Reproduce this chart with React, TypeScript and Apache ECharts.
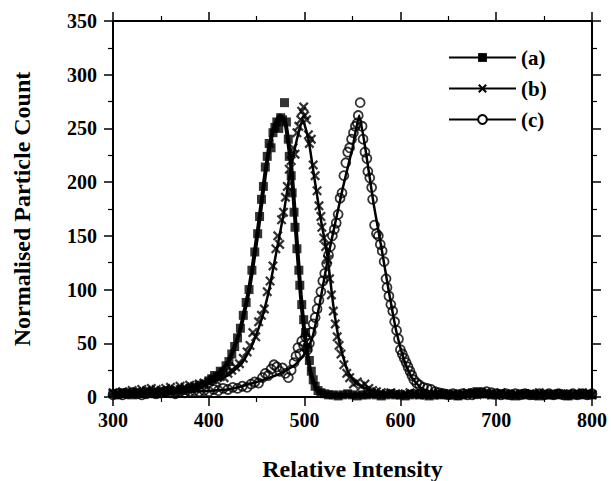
import React, { useEffect, useRef } from "react";
import * as echarts from "echarts";

// Tick values
const xTicks = { min: 300, max: 800, interval: 100 };
const yTicks = { min: 0, max: 350, interval: 50 };

const seriesNames = ["(a)", "(b)", "(c)"];

// Measured points (Relative Intensity, Normalised Particle Count)
const pointsA: [number, number][] = [
  [300,3],[305,2],[310,4],[315,3],[320,2],[325,4],[330,3],[335,5],[340,4],[345,3],[350,5],[355,4],[360,6],[365,5],[370,7],[375,6],[380,8],[385,9],[390,11],[395,12],[400,15],
  [403,17],[406,20],[409,19],[412,24],[415,23],[418,29],[421,33],[424,40],[427,47],[430,55],[433,64],[436,76],[439,88],[442,100],[445,118],[448,135],[451,152],[453,168],[455,184],[457,196],[459,214],[461,224],[463,236],[465,232],[467,246],[469,251],[471,256],[473,250],[475,260],[477,258],[479,274],[481,256],[483,240],[484,224],[486,206],[487,190],[489,172],[490,158],[492,138],[494,118],[495,104],[497,86],[499,72],[501,60],[503,46],[505,34],[507,24],[509,16],[511,10],[514,6],[517,4],[521,3],[525,2],
  [530,2],[535,1],[540,2],[545,3],[550,2],[555,1],[560,2],[565,2],[570,3],[575,2],[580,1],[585,2],[590,3],[595,2],[600,2],[605,1],[610,2],[615,3],[620,2],[625,2],[630,1],[635,2],[640,2],[645,3],[650,2],[655,2],[660,1],[665,2],[670,3],[675,4],[680,5],[685,4],[690,3],[695,2],[700,2],[705,3],[710,2],[715,2],[720,1],[725,2],[730,3],[735,2],[740,2],[745,1],[750,2],[755,2],[760,2],[765,3],[770,2],[775,1],[780,2],[785,2],[790,3],[795,2],[800,2],
];

const pointsB: [number, number][] = [
  [300,4],[305,3],[310,5],[315,4],[320,6],[325,5],[330,7],[335,6],[340,8],[345,7],[350,6],[355,8],[360,9],[365,7],[370,10],[375,9],[380,11],[385,10],[390,12],[395,13],[400,14],
  [404,16],[408,15],[412,19],[416,18],[420,22],[424,25],[428,28],[432,31],[436,36],[440,42],[443,48],[446,60],[449,56],[452,70],[455,76],[458,82],[461,98],[464,108],[467,122],[470,138],[472,150],[474,142],[476,165],[478,172],[480,186],[482,196],[484,212],[486,220],[488,232],[490,226],[492,246],[494,252],[496,258],[497,266],[499,270],[500,262],[502,258],[504,244],[505,236],[507,240],[509,216],[511,206],[513,192],[515,178],[517,168],[518,158],[520,148],[522,140],[524,128],[526,110],[528,95],[530,80],[532,68],[534,56],[536,48],[538,40],[541,30],[544,22],[547,18],[551,12],[555,14],[559,10],[563,12],[567,8],[571,6],[575,5],
  [580,4],[585,3],[590,4],[595,3],[600,2],[605,3],[610,4],[615,3],[620,2],[625,3],[630,3],[635,2],[640,4],[645,3],[650,2],[655,3],[660,2],[665,3],[670,4],[675,3],[680,2],[685,3],[690,3],[695,2],[700,3],[705,4],[710,3],[715,2],[720,3],[725,2],[730,3],[735,3],[740,2],[745,4],[750,3],[755,2],[760,3],[765,2],[770,3],[775,3],[780,2],[785,3],[790,4],[795,3],[800,2],
];

const pointsC: [number, number][] = [
  [300,2],[305,3],[310,2],[315,3],[320,4],[325,3],[330,2],[335,3],[340,4],[345,3],[350,4],[355,5],[360,4],[365,3],[370,5],[375,4],[380,5],[385,6],[390,5],[395,6],[400,5],[405,7],[410,6],[415,8],[420,7],[425,9],[430,8],[435,10],[440,9],
  [444,12],[448,14],[452,13],[456,18],[459,22],[462,20],[465,26],[468,30],[471,28],[474,24],[477,27],[480,22],[483,18],[486,25],[489,32],[491,38],[493,46],[495,40],[497,52],[499,48],[501,56],[503,44],[505,50],[507,60],[509,68],[511,74],[513,82],[515,90],[517,98],[519,108],[521,115],[523,124],[525,132],[527,140],[529,150],[531,156],[533,162],[535,170],[537,185],[539,190],[541,206],[543,218],[545,228],[547,232],[549,240],[551,246],[553,252],[555,255],[556,262],[558,274],[560,252],[561,240],[563,228],[565,222],[566,210],[568,204],[570,195],[571,184],[573,160],[575,152],[577,150],[579,142],[581,136],[583,126],[585,110],[586,102],[588,94],[590,86],[592,80],[594,70],[596,62],[598,54],[600,44],[602,40],[604,36],[606,32],[608,28],[610,24],[612,20],[614,16],[617,13],[620,11],[624,9],[628,8],[632,7],[636,5],[640,4],
  [645,3],[650,2],[655,3],[660,2],[665,3],[670,2],[675,2],[680,3],[685,4],[690,5],[695,4],[700,3],[705,2],[710,3],[715,2],[720,3],[725,2],[730,3],[735,2],[740,2],[745,3],[750,2],[755,3],[760,2],[765,3],[770,2],[775,2],[780,3],[785,2],[790,3],[795,2],[800,3],
];

// Fitted curves
const fitA: [number, number][] = [
  [300,3],[340,4],[370,6],[390,10],[405,18],[420,32],[432,60],[442,100],[452,160],[460,215],[467,248],[474,262],[480,255],[486,215],[491,155],[496,95],[501,52],[507,20],[514,5],[525,2],[560,2],[650,2],[800,2],
];
const fitB: [number, number][] = [
  [300,4],[350,6],[390,10],[420,20],[435,32],[445,48],[455,72],[463,100],[471,137],[478,170],[485,210],[492,240],[498,258],[504,240],[510,205],[517,165],[524,130],[530,85],[537,48],[545,24],[555,12],[570,6],[590,3],[650,2],[800,2],
];
const fitC: [number, number][] = [
  [300,2],[360,4],[420,7],[450,14],[475,22],[490,30],[500,40],[508,55],[516,88],[526,137],[540,195],[550,232],[557,262],[564,228],[572,180],[580,140],[588,98],[596,60],[604,34],[612,18],[622,8],[635,4],[660,3],[800,2],
];

const FONT = "'Liberation Serif', 'Times New Roman', serif";
const X_SYMBOL = "path://M0,1.6 L1.6,0 L5,3.4 L8.4,0 L10,1.6 L6.6,5 L10,8.4 L8.4,10 L5,6.6 L1.6,10 L0,8.4 L3.4,5 Z";

export default function App() {
  const ref = useRef<HTMLDivElement>(null);
  useEffect(() => {
    if (!ref.current) return;
    const chart = echarts.init(ref.current, null, { renderer: "svg" });
    const axisLine = { show: true, onZero: false, lineStyle: { color: "#000", width: 2 } };
    const axisTick = { show: true, inside: false, length: 9, lineStyle: { color: "#000", width: 1.5 } };
    const minorTick = { show: true, splitNumber: 2, length: 5, lineStyle: { color: "#000", width: 1.2 } };
    const labelStyle = { color: "#000", fontSize: 20, fontWeight: "bold" as const, fontFamily: FONT };
    const titleStyle = { color: "#000", fontSize: 24, fontWeight: "bold" as const, fontFamily: FONT };
    const option: any = {
      animation: false,
      backgroundColor: "#fff",
      grid: { left: 113, right: 19, top: 21, bottom: 84, containLabel: false, outerBoundsMode: "none" },
      legend: {
        data: seriesNames,
        orient: "vertical",
        left: 448,
        top: 47,
        padding: 0,
        itemWidth: 67,
        itemHeight: 11,
        itemGap: 10,
        textStyle: { ...labelStyle, fontSize: 21 },
        selectedMode: false,
      },
      xAxis: [
        {
          type: "value", position: "bottom", ...xTicks,
          axisLine, axisTick, minorTick, splitLine: { show: false },
          axisLabel: { ...labelStyle, margin: 13, showMaxLabel: true, showMinLabel: true },
          name: "Relative Intensity", nameLocation: "middle", nameGap: 60,
          nameTextStyle: titleStyle,
        },
        {
          type: "value", position: "top", ...xTicks,
          axisLine, axisTick, minorTick, splitLine: { show: false },
          axisLabel: { show: false },
        },
      ],
      yAxis: [
        {
          type: "value", position: "left", ...yTicks,
          axisLine, axisTick, minorTick, splitLine: { show: false },
          axisLabel: { ...labelStyle, margin: 16 },
          name: "Normalised Particle Count", nameLocation: "middle", nameGap: 79,
          nameTextStyle: titleStyle,
        },
        {
          type: "value", position: "right", ...yTicks,
          axisLine, axisTick, minorTick, splitLine: { show: false },
          axisLabel: { show: false },
        },
      ],
      series: [
        {
          name: "(a)", type: "line", data: fitA, smooth: 0.15, showSymbol: false,
          symbol: "rect", symbolSize: 9,
          itemStyle: { color: "#000" },
          lineStyle: { color: "#000", width: 4 }, z: 2,
        },
        {
          name: "(b)", type: "line", data: fitB, smooth: 0.15, showSymbol: false,
          symbol: X_SYMBOL, symbolSize: 9,
          itemStyle: { color: "#000" },
          lineStyle: { color: "#000", width: 2.5 }, z: 2,
        },
        {
          name: "(c)", type: "line", data: fitC, smooth: 0.15, showSymbol: false,
          symbol: "circle", symbolSize: 9,
          itemStyle: { color: "#fff", borderColor: "#000", borderWidth: 1.8 },
          lineStyle: { color: "#000", width: 2.5 }, z: 2,
        },
        {
          name: "(a)", type: "scatter", data: pointsA, symbol: "rect", symbolSize: 9,
          itemStyle: { color: "#000" }, clip: false, z: 3,
        },
        {
          name: "(b)", type: "scatter", data: pointsB, symbol: X_SYMBOL, symbolSize: 10,
          itemStyle: { color: "#000" }, clip: false, z: 3,
        },
        {
          name: "(c)", type: "scatter", data: pointsC, symbol: "circle", symbolSize: 9,
          itemStyle: { color: "rgba(255,255,255,0)", borderColor: "#000", borderWidth: 1.8 }, clip: false, z: 3,
        },
      ],
    };
    chart.setOption(option);
    return () => chart.dispose();
  }, []);
  return (
    <div
      ref={ref}
      style={{ position: "fixed", left: 0, top: 0, width: 611, height: 481, background: "#fff" }}
    />
  );
}
